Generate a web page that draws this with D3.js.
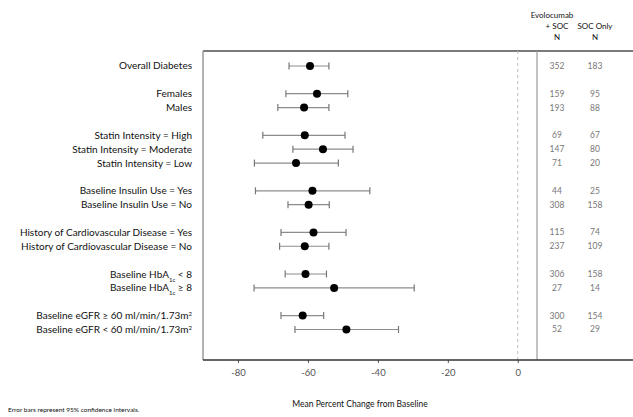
<!DOCTYPE html>
<html>
<head>
<meta charset="utf-8">
<script src="https://cdn.jsdelivr.net/npm/d3@7"></script>
<style>
  body { margin: 0; background: #fff; }
  svg { display: block; font-family: Lato, "Open Sans", sans-serif; }
</style>
</head>
<body>
<svg id="chart" width="633" height="417"></svg>
<script>
// row labels (HbA1c / eGFR rows get sub/superscripts below), slot = vertical position index
const labels = [
  "Overall Diabetes", "Females", "Males",
  "Statin Intensity = High", "Statin Intensity = Moderate", "Statin Intensity = Low",
  "Baseline Insulin Use = Yes", "Baseline Insulin Use = No",
  "History of Cardiovascular Disease = Yes", "History of Cardiovascular Disease = No",
  "HBA_LT", "HBA_GE", "EGFR_GE", "EGFR_LT"
];
const slots = [0, 2, 3, 5, 6, 7, 9, 10, 12, 13, 15, 16, 18, 19];
const means = [-59.4, -57.4, -61.1, -60.9, -55.7, -63.4, -58.7, -59.8, -58.4, -60.9, -60.7, -52.5, -61.5, -49.0];
const lower = [-65.4, -66.3, -68.6, -72.9, -64.3, -75.3, -75.0, -65.7, -67.7, -68.1, -66.5, -75.4, -67.7, -63.7];
const upper = [-54.0, -48.6, -54.0, -49.4, -47.1, -51.3, -42.3, -53.9, -49.1, -54.0, -54.7, -29.6, -55.5, -34.1];
const nEvolocumab = [352, 159, 193, 69, 147, 71, 44, 308, 115, 237, 306, 27, 300, 52];
const nSoc = [183, 95, 88, 67, 80, 20, 25, 158, 74, 109, 158, 14, 154, 29];
const xTicks = [-80, -60, -40, -20, 0];

const svg = d3.select("#chart");

const plotLeft = 203, plotRight = 537, plotTop = 51, plotBottom = 360;

const x = d3.scaleLinear().domain([-90, 5.5]).range([plotLeft, plotRight]);
const y = d3.scaleLinear().domain([-1.08, 21.2]).range([plotTop, plotBottom]);

// frame
svg.append("line").attr("x1", plotLeft).attr("x2", 633).attr("y1", plotTop).attr("y2", plotTop)
  .attr("stroke", "#7a7a7a").attr("stroke-width", 2);
svg.append("line").attr("x1", plotLeft).attr("x2", plotLeft).attr("y1", plotTop).attr("y2", plotBottom)
  .attr("stroke", "#9a9a9a").attr("stroke-width", 1.5);
svg.append("line").attr("x1", plotRight).attr("x2", plotRight).attr("y1", plotTop).attr("y2", plotBottom)
  .attr("stroke", "#9a9a9a").attr("stroke-width", 1.2);
svg.append("line").attr("x1", x(0)).attr("x2", x(0)).attr("y1", plotTop).attr("y2", plotBottom)
  .attr("stroke", "#bbb").attr("stroke-dasharray", "3,3");

// x axis
const xAxis = d3.axisBottom(x).tickValues(xTicks).tickSize(3).tickPadding(6)
  .tickFormat(d => String(d));
const gx = svg.append("g").attr("transform", `translate(0,${plotBottom})`).call(xAxis);
gx.select(".domain").remove();
gx.selectAll(".tick line").attr("stroke", "#555");
gx.selectAll(".tick text").attr("fill", "#555").style("font-size", "9.5px")
  .style("font-family", "Lato, sans-serif");
svg.append("line").attr("x1", plotLeft).attr("x2", 633).attr("y1", plotBottom).attr("y2", plotBottom)
  .attr("stroke", "#333").attr("stroke-width", 1.3);

// error bars
const rows = svg.append("g").selectAll("g").data(labels).join("g")
  .attr("transform", (d, i) => `translate(0,${y(slots[i])})`);

rows.append("line")
  .attr("x1", (d, i) => x(lower[i])).attr("x2", (d, i) => x(upper[i]))
  .attr("stroke", "#8c8c8c").attr("stroke-width", 1.2);
rows.append("line")
  .attr("x1", (d, i) => x(lower[i])).attr("x2", (d, i) => x(lower[i]))
  .attr("y1", -3.5).attr("y2", 3.5).attr("stroke", "#777").attr("stroke-width", 1.2);
rows.append("line")
  .attr("x1", (d, i) => x(upper[i])).attr("x2", (d, i) => x(upper[i]))
  .attr("y1", -3.5).attr("y2", 3.5).attr("stroke", "#777").attr("stroke-width", 1.2);
rows.append("circle")
  .attr("cx", (d, i) => x(means[i])).attr("r", 4).attr("fill", "#000");

// row labels
const labelText = rows.append("text")
  .attr("x", 192).attr("dy", "0.35em").attr("text-anchor", "end")
  .attr("fill", "#111").style("font-size", "10px");

labelText.each(function(d) {
  const t = d3.select(this);
  if (d === "HBA_LT" || d === "HBA_GE") {
    t.append("tspan").text("Baseline HbA");
    t.append("tspan").text("1c").attr("baseline-shift", "sub").style("font-size", "6px");
    t.append("tspan").text(d === "HBA_LT" ? " < 8" : " \u2265 8");
  } else if (d === "EGFR_GE" || d === "EGFR_LT") {
    t.append("tspan").text(d === "EGFR_GE" ? "Baseline eGFR \u2265 60 ml/min/1.73m" : "Baseline eGFR < 60 ml/min/1.73m");
    t.append("tspan").text("2").attr("baseline-shift", "super").style("font-size", "6px");
  } else {
    t.text(d);
  }
});

// N columns
const col1 = 557, col2 = 595;
rows.append("text").attr("x", col1).attr("dy", "0.35em").attr("text-anchor", "middle")
  .attr("fill", "#777").style("font-size", "8.5px").text((d, i) => nEvolocumab[i]);
rows.append("text").attr("x", col2).attr("dy", "0.35em").attr("text-anchor", "middle")
  .attr("fill", "#777").style("font-size", "8.5px").text((d, i) => nSoc[i]);

// headers
const head = svg.append("g").attr("fill", "#111").style("font-size", "8px")
  .attr("text-anchor", "middle");
head.append("text").attr("x", 552).attr("y", 18).text("Evolocumab");
head.append("text").attr("x", col1).attr("y", 29).text("+ SOC");
head.append("text").attr("x", col1).attr("y", 40).text("N");
head.append("text").attr("x", col2).attr("y", 29).text("SOC Only");
head.append("text").attr("x", col2).attr("y", 40).text("N");

// titles
svg.append("text").attr("x", 360).attr("y", 407).attr("text-anchor", "middle")
  .attr("fill", "#111").style("font-size", "8.5px").text("Mean Percent Change from Baseline");
svg.append("text").attr("x", 8).attr("y", 412)
  .attr("fill", "#111").style("font-size", "6.5px").text("Error bars represent 95% confidence intervals.");
</script>
</body>
</html>
